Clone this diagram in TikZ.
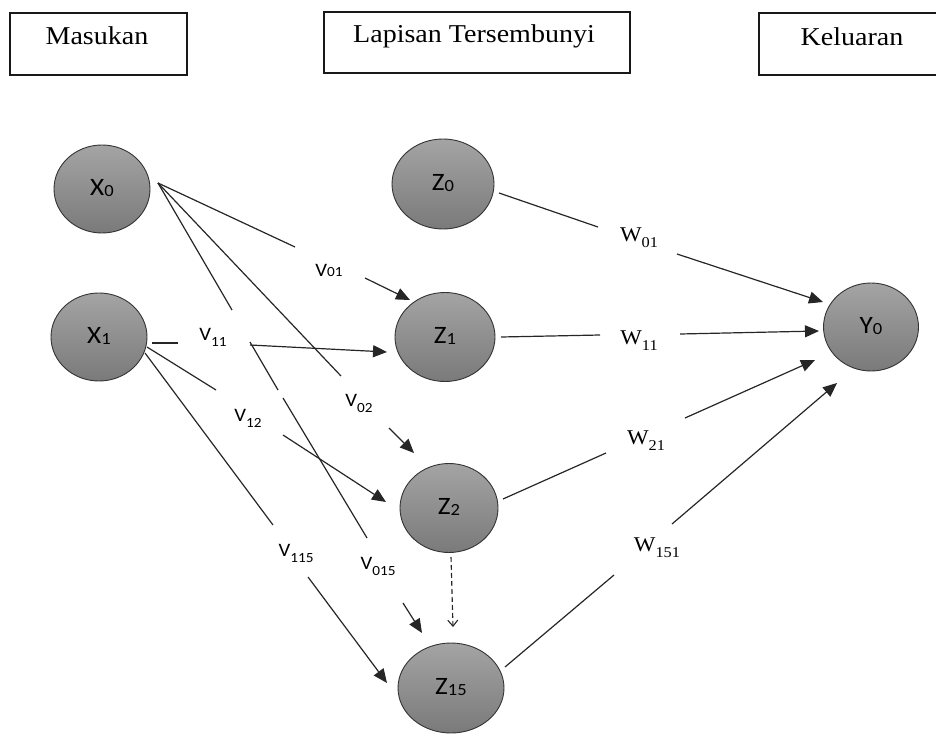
\documentclass[tikz,border=0pt]{standalone}
\usepackage{fontspec}
\setmainfont{Liberation Serif}[FakeStretch=1.09]
\newfontfamily\calfont{Carlito}[FakeStretch=1.09]
\usetikzlibrary{arrows.meta,shapes.geometric}
\definecolor{ntop}{HTML}{A4A4A4}
\definecolor{nbot}{HTML}{7A7A7A}
\newcommand\nlab[2]{\raisebox{4pt}{\calfont\fontsize{25}{25}\selectfont #1\raisebox{-1pt}{\fontsize{17}{17}\selectfont #2}}}
\newcommand\vlab[2]{{\calfont\fontsize{19}{19}\selectfont V\raisebox{-#2pt}{\fontsize{14}{14}\selectfont #1}}}
\newcommand\wlab[1]{{\fontsize{21}{21}\selectfont W\raisebox{-6pt}{\fontsize{15}{15}\selectfont #1}}}
\begin{document}
\begin{tikzpicture}[x=1pt,y=-1pt,
  neuron/.style={ellipse, draw=black!80, line width=0.9pt, top color=ntop, bottom color=nbot, inner sep=0pt},
  conn/.style={line width=1.2pt, draw=black!85},
  arr/.style={conn, -{Triangle[length=14pt,width=12pt]}},
  dasharr/.style={line width=1.1pt, draw=black!85, dash pattern=on 5pt off 3pt, -{Straight Barb[length=6pt,width=10pt]}},
  titlebox/.style={draw=black!90, line width=1.4pt, inner sep=0pt},
  titletext/.style={anchor=base, inner sep=0pt, font=\fontsize{25.7}{30}\selectfont},
  lab/.style={inner sep=0pt}]
\useasboundingbox (0,0) rectangle (936,733);

% title boxes
\node[titlebox, minimum width=177pt, minimum height=62pt] (bIn) at (98.5,44) {};
\node[titlebox, minimum width=306pt, minimum height=61pt] (bHid) at (477,42.5) {};
\node[titlebox, minimum width=186pt, minimum height=62pt] (bOut) at (852,44) {};
\node[titletext] (tIn) at (97,45) {Masukan};
\node[titletext] (tHid) at (474,43) {Lapisan Tersembunyi};
\node[titletext] (tOut) at (852,46) {Keluaran};

% neurons
\node[neuron, minimum width=96pt, minimum height=88pt] (X0) at (102,189) {\nlab{X}{0}};
\node[neuron, minimum width=96pt, minimum height=88pt] (X1) at (99,337) {\nlab{X}{1}};
\node[neuron, minimum width=102pt, minimum height=90pt] (Z0) at (443,184) {\nlab{Z}{0}};
\node[neuron, minimum width=100pt, minimum height=89pt] (Z1) at (445,337) {\nlab{Z}{1}};
\node[neuron, minimum width=98pt, minimum height=89pt] (Z2) at (449,508) {\nlab{Z}{2}};
\node[neuron, minimum width=106pt, minimum height=90pt] (Z15) at (451,688) {\nlab{Z}{15}};
\node[neuron, minimum width=95pt, minimum height=88pt] (Y0) at (871,327) {\nlab{Y}{0}};

% coordinates
\coordinate (x0o) at (158,183);
\coordinate (a1) at (295,247); \coordinate (a2) at (365,278); \coordinate (a3) at (410,300);
\coordinate (b1) at (341,376); \coordinate (b2) at (389,428); \coordinate (b3) at (414,453);
\coordinate (c1) at (232,310); \coordinate (c2) at (250,342); \coordinate (c3) at (278,390);
\coordinate (c4) at (283,398); \coordinate (c5) at (367,538); \coordinate (c6) at (403,603); \coordinate (c7) at (422,633);
\coordinate (d0) at (152,343); \coordinate (d1) at (178,343); \coordinate (d2) at (250,345); \coordinate (d3) at (387,352);
\coordinate (e0) at (147,347); \coordinate (e1) at (216,390); \coordinate (e2) at (283,435); \coordinate (e3) at (386,502);
\coordinate (f0) at (145,353); \coordinate (f1) at (273,525); \coordinate (f2) at (308,577); \coordinate (f3) at (387,683);
\coordinate (g0) at (499,193); \coordinate (g1) at (598,227); \coordinate (g2) at (677,254); \coordinate (g3) at (823,302);
\coordinate (h0) at (501,337); \coordinate (h1) at (600,335); \coordinate (h2) at (680,334); \coordinate (h3) at (819,331);
\coordinate (i0) at (503,499); \coordinate (i1) at (606,453); \coordinate (i2) at (685,418); \coordinate (i3) at (815,360);
\coordinate (j0) at (505,667); \coordinate (j1) at (614,575); \coordinate (j2) at (672,524); \coordinate (j3) at (837,383);
\coordinate (k0) at (451,557); \coordinate (k1) at (453,627);

% connectors X0
\draw[conn] (x0o) -- (a1); \draw[arr] (a2) -- (a3);
\draw[conn] (x0o) -- (b1); \draw[arr] (b2) -- (b3);
\draw[conn] (x0o) -- (c1); \draw[conn] (c2) -- (c3); \draw[conn] (c4) -- (c5); \draw[arr] (c6) -- (c7);
% connectors X1
\draw[conn] (d0) -- (d1); \draw[arr] (d2) -- (d3);
\draw[conn] (e0) -- (e1); \draw[arr] (e2) -- (e3);
\draw[conn] (f0) -- (f1); \draw[arr] (f2) -- (f3);
% connectors Z -> Y
\draw[conn] (g0) -- (g1); \draw[arr] (g2) -- (g3);
\draw[conn] (h0) -- (h1); \draw[arr] (h2) -- (h3);
\draw[conn] (i0) -- (i1); \draw[arr] (i2) -- (i3);
\draw[conn] (j0) -- (j1); \draw[arr] (j2) -- (j3);
\draw[dasharr] (k0) -- (k1);

% weight labels
\node[lab] (v01) at (329,270) {\vlab{01}{0}};
\node[lab] (v11) at (213,337) {\vlab{11}{6}};
\node[lab] (v02) at (359,403) {\vlab{02}{6}};
\node[lab] (v12) at (248,418) {\vlab{12}{6}};
\node[lab] (v115) at (296,553) {\vlab{115}{6}};
\node[lab] (v015) at (378,566) {\vlab{015}{6}};
\node[lab] (w01) at (639,238) {\wlab{01}};
\node[lab] (w11) at (639,341) {\wlab{11}};
\node[lab] (w21) at (646,441) {\wlab{21}};
\node[lab] (w151) at (657,548) {\wlab{151}};
\end{tikzpicture}
\end{document}
